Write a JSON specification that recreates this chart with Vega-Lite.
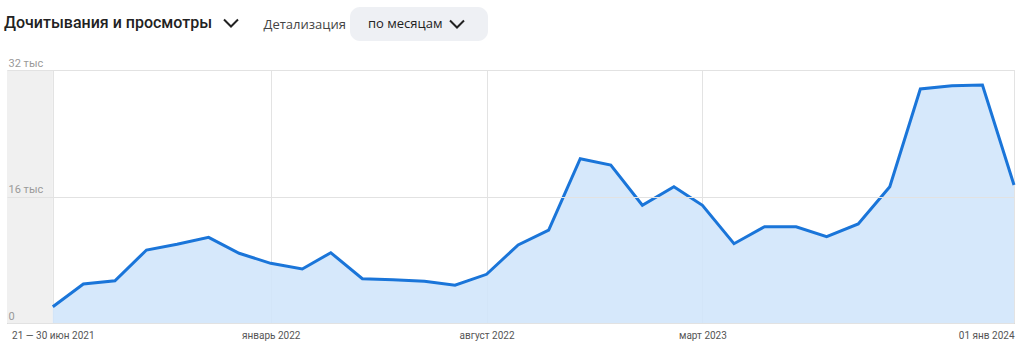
{
  "$schema": "https://vega.github.io/schema/vega-lite/v6.json",
  "width": 1007,
  "height": 253,
  "autosize": {"type": "none"},
  "padding": {"left": 7, "top": 70, "right": 9, "bottom": 29},
  "background": "white",
  "config": {"font": "Open Sans", "view": {"stroke": "#dddddd", "strokeWidth": 1}},
  "data": {"values": [
    {"month": "2021-06-01", "value": 2060},
    {"month": "2021-07-01", "value": 4930},
    {"month": "2021-08-01", "value": 5350},
    {"month": "2021-09-01", "value": 9230},
    {"month": "2021-10-01", "value": 9950},
    {"month": "2021-11-01", "value": 10840},
    {"month": "2021-12-01", "value": 8820},
    {"month": "2022-01-01", "value": 7550},
    {"month": "2022-02-01", "value": 6830},
    {"month": "2022-03-01", "value": 8890},
    {"month": "2022-04-01", "value": 5600},
    {"month": "2022-05-01", "value": 5480},
    {"month": "2022-06-01", "value": 5270},
    {"month": "2022-07-01", "value": 4770},
    {"month": "2022-08-01", "value": 6160},
    {"month": "2022-09-01", "value": 9870},
    {"month": "2022-10-01", "value": 11760},
    {"month": "2022-11-01", "value": 20780},
    {"month": "2022-12-01", "value": 19980},
    {"month": "2023-01-01", "value": 14890},
    {"month": "2023-02-01", "value": 17240},
    {"month": "2023-03-01", "value": 14890},
    {"month": "2023-04-01", "value": 10030},
    {"month": "2023-05-01", "value": 12180},
    {"month": "2023-06-01", "value": 12180},
    {"month": "2023-07-01", "value": 10920},
    {"month": "2023-08-01", "value": 12520},
    {"month": "2023-09-01", "value": 17240},
    {"month": "2023-10-01", "value": 29600},
    {"month": "2023-11-01", "value": 30020},
    {"month": "2023-12-01", "value": 30100},
    {"month": "2024-01-01", "value": 17460}
  ]},
  "layer": [
    {
      "data": {"values": [{"start": "2021-04-17", "end": "2021-06-01"}]},
      "mark": {"type": "rect", "color": "#f0f0f0"},
      "encoding": {
        "x": {"field": "start", "type": "temporal"},
        "x2": {"field": "end"}
      }
    },
    {
      "mark": {"type": "area", "color": "#d0e5fb", "opacity": 0.88},
      "encoding": {
        "x": {
          "field": "month", "type": "temporal",
          "scale": {"type": "utc", "domain": [{"year": 2021, "month": 4, "date": 17, "utc": true}, {"year": 2024, "month": 1, "date": 1, "utc": true}]},
          "axis": {
            "title": null,
            "values": [
              {"year": 2021, "month": 6, "date": 1, "utc": true},
              {"year": 2022, "month": 1, "date": 1, "utc": true},
              {"year": 2022, "month": 8, "date": 1, "utc": true},
              {"year": 2023, "month": 3, "date": 1, "utc": true},
              {"year": 2024, "month": 1, "date": 1, "utc": true}
            ],
            "labelExpr": "utcFormat(datum.value, '%Y-%m') == '2021-06' ? '21 — 30 июн 2021' : utcFormat(datum.value, '%Y-%m') == '2022-01' ? 'январь 2022' : utcFormat(datum.value, '%Y-%m') == '2022-08' ? 'август 2022' : utcFormat(datum.value, '%Y-%m') == '2023-03' ? 'март 2023' : '01 янв 2024'",
            "grid": true,
            "gridColor": "#e3e3e3",
            "ticks": false,
            "domainColor": "#c4c4c4",
            "labelColor": "#555555",
            "labelFont": "Roboto",
            "labelFontSize": 10,
            "labelPadding": 7,
            "labelFlush": 4,
            "labelOverlap": false
          }
        },
        "y": {
          "field": "value", "type": "quantitative",
          "scale": {"domain": [0, 32000], "nice": false},
          "axis": {
            "zindex": 1,
            "values": [0, 16000, 32000],
            "labelExpr": "datum.value == 0 ? '0' : format(datum.value / 1000, 'd') + ' тыс'",
            "labelAlign": "left",
            "labelBaseline": "bottom",
            "labelPadding": -1,
            "labelOffset": -2,
            "ticks": false,
            "domain": false,
            "grid": true,
            "gridColor": "#e2e2e2",
            "labelColor": "#999999",
            "labelFont": "Roboto",
            "labelFontSize": 11,
            "labelOverlap": false,
            "title": "Детализация",
            "titleX": 256,
            "titleY": -46,
            "titleAngle": 0,
            "titleAlign": "left",
            "titleBaseline": "middle",
            "titleFontSize": 13,
            "titleFontWeight": "normal",
            "titleColor": "#444444"
          }
        }
      }
    },
    {
      "mark": {"type": "line", "color": "#1a75d9", "strokeWidth": 3},
      "encoding": {
        "x": {"field": "month", "type": "temporal"},
        "y": {"field": "value", "type": "quantitative"}
      }
    },
    {
      "data": {"values": [{}]},
      "mark": {"type": "point", "filled": false, "color": "#222222", "strokeWidth": 2, "size": 0, "opacity": 1},
      "encoding": {
        "shape": {
          "datum": "Дочитывания и просмотры",
          "scale": {"range": ["M-1,-0.5L0,0.5L1,-0.5"]},
          "legend": {
            "orient": "none", "legendX": -1, "legendY": -55, "title": null, "padding": 0,
            "labelFont": "Roboto", "labelFontSize": 16, "labelFontWeight": 500, "labelColor": "#222222",
            "labelOffset": -235, "labelLimit": 400,
            "symbolSize": 196, "symbolOffset": 217,
            "symbolStrokeColor": "#222222", "symbolStrokeWidth": 2, "symbolFillColor": "transparent"
          }
        }
      }
    },
    {
      "data": {"values": [{}]},
      "mark": {"type": "point", "filled": false, "color": "#222222", "strokeWidth": 2, "size": 0, "opacity": 1},
      "encoding": {
        "shape": {
          "datum": "по месяцам",
          "scale": {"range": ["M-1,-0.5L0,0.5L1,-0.5M2.57,0Z"]},
          "legend": {
            "orient": "none", "legendX": 343, "legendY": -63, "title": null, "padding": 9,
            "fillColor": "#eef0f4", "cornerRadius": 10,
            "labelFontSize": 13, "labelFontWeight": 500, "labelColor": "#222222",
            "labelOffset": -97, "labelLimit": 300,
            "symbolSize": 196, "symbolOffset": 90,
            "symbolStrokeColor": "#222222", "symbolStrokeWidth": 2, "symbolFillColor": "transparent"
          }
        }
      }
    }
  ],
  "resolve": {"scale": {"shape": "independent"}}
}
